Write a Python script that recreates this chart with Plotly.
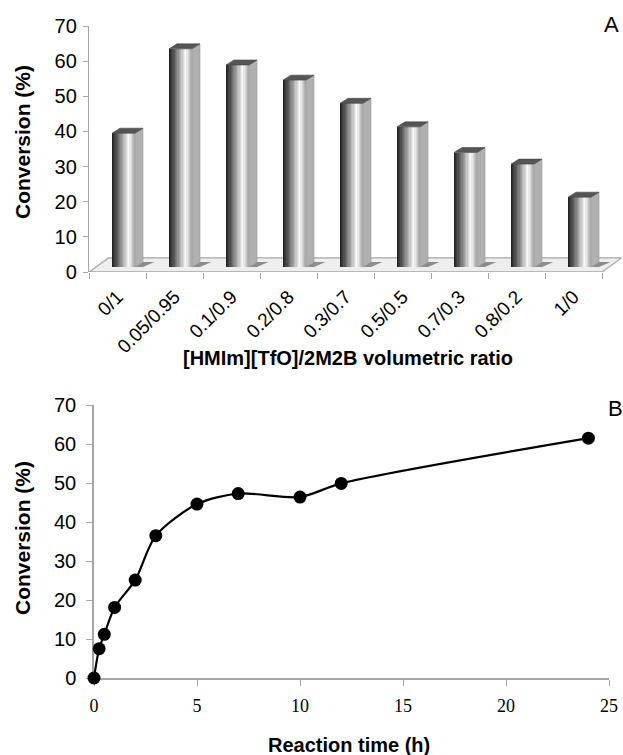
import plotly.graph_objects as go

# ---------------- data ----------------
ratio_labels = ["0/1", "0.05/0.95", "0.1/0.9", "0.2/0.8", "0.3/0.7",
                "0.5/0.5", "0.7/0.3", "0.8/0.2", "1/0"]
conversion_a = [39.5, 63.5, 58.9, 54.6, 48.0, 41.3, 34.0, 30.7, 21.3]

time_h = [0, 0.25, 0.5, 1, 2, 3, 5, 7, 10, 12, 24]
conversion_b = [0, 7.5, 11.2, 18.1, 25.1, 36.5, 44.6, 47.3, 46.4, 49.9, 61.5]

y_ticks = [0, 10, 20, 30, 40, 50, 60, 70]
t_ticks = [0, 5, 10, 15, 20, 25]

# ---------------- geometry / style ----------------
W, H = 623, 755
AX_GREY = "#a6a6a6"
BASE = 1.4          # bar foot above front floor edge (3-D look)
F0, F1 = -0.096, 0.307   # front face span relative to category centre
DX, DY = 0.14, 1.42      # 3-D depth offset of side / cap
N_SLICES = 18

def shade(t):
    # cylinder-like gradient from dark (left) to white then grey (right)
    if t < 0.74:
        v = 30 + (252 - 30) * (t / 0.74) ** 1.15
    else:
        v = 252 - (252 - 170) * ((t - 0.74) / 0.26)
    v = int(round(v))
    return f"rgb({v},{v},{v})"

fig = go.Figure()

idx = list(range(len(ratio_labels)))
heights = [v - BASE for v in conversion_a]
sw = (F1 - F0) / N_SLICES
for k in range(N_SLICES):
    fig.add_trace(go.Bar(
        x=idx, y=heights, base=BASE, width=sw * 1.08,
        offset=F0 + k * sw, marker=dict(color=shade((k + 0.5) / N_SLICES), line=dict(width=0)),
        xaxis="x", yaxis="y", showlegend=False, hoverinfo="skip"))

shapes = []
# floor
shapes.append(dict(type="path", xref="x", yref="y", layer="below",
                   path=f"M -0.5,0 L 8.5,0 L {8.5 + 0.34},4 L {-0.5 + 0.34},4 Z",
                   fillcolor="#eeeeee", line=dict(color=AX_GREY, width=1.3)))
for i, v in zip(idx, conversion_a):
    x0, x1 = i + F0, i + F1
    # shadow on floor
    shapes.append(dict(type="path", xref="x", yref="y", layer="below",
                       path=f"M {x1},{BASE} L {x1 + DX},{BASE + DY} L {x1 + DX + 0.2},{BASE + DY} L {x1 + 0.14},{BASE} Z",
                       fillcolor="#8c8c8c", line=dict(width=0)))
    # side face
    shapes.append(dict(type="path", xref="x", yref="y",
                       path=f"M {x1},{BASE} L {x1},{v} L {x1 + DX},{v + DY} L {x1 + DX},{BASE + DY} Z",
                       fillcolor="#b0b0b0", line=dict(color="#979797", width=0.6)))
    # cap
    shapes.append(dict(type="path", xref="x", yref="y",
                       path=f"M {x0},{v} L {x1},{v} L {x1 + DX},{v + DY} L {x0 + DX},{v + DY} Z",
                       fillcolor="#555555", line=dict(color="#444444", width=0.6)))

# panel B
fig.add_trace(go.Scatter(
    x=time_h, y=conversion_b, mode="lines+markers",
    line=dict(color="black", width=2.2, shape="spline", smoothing=0.8),
    marker=dict(color="black", size=13),
    xaxis="x2", yaxis="y2", showlegend=False, cliponaxis=False))

arial = "Arial, Liberation Sans, sans-serif"

fig.update_layout(
    width=W, height=H, margin=dict(l=0, r=0, t=0, b=0, autoexpand=False),
    paper_bgcolor="white", plot_bgcolor="rgba(0,0,0,0)",
    barmode="overlay", bargap=0,
    font=dict(family=arial, color="black"),
    xaxis=dict(domain=[89 / W, 622 / W], range=[-0.5, 8.85], anchor="y", automargin=False,
               tickmode="array", tickvals=idx, ticktext=ratio_labels,
               tickangle=-45, ticks="", ticklen=0, showline=False, showgrid=False,
               zeroline=False, tickfont=dict(size=19, family=arial),
               ticklabelstandoff=9,
               minor=dict(tickvals=[i - 0.5 for i in range(len(idx) + 1)],
                          ticks="outside", ticklen=6, tickcolor=AX_GREY, tickwidth=1.3)),
    yaxis=dict(domain=[1 - 272 / H, 1 - 26 / H], range=[0, 70], anchor="x", automargin=False,
               tickvals=y_ticks, ticks="outside", ticklen=5, tickcolor=AX_GREY,
               showline=True, linecolor=AX_GREY, linewidth=1.3, showgrid=False,
               zeroline=False, ticklabelstandoff=2, tickfont=dict(size=20, family=arial)),
    xaxis2=dict(domain=[94 / W, 609 / W], range=[0, 25], anchor="y2", automargin=False,
                tickvals=t_ticks, ticks="outside", ticklen=6, tickcolor=AX_GREY,
                showline=True, linecolor=AX_GREY, linewidth=1.5, showgrid=False,
                zeroline=False, ticklabelstandoff=5, layer="below traces",
                tickfont=dict(size=18, family="Liberation Serif, DejaVu Serif, serif")),
    yaxis2=dict(domain=[1 - 678 / H, 1 - 405 / H], range=[0, 70], anchor="x2", automargin=False,
                tickvals=y_ticks, ticks="outside", ticklen=6, tickcolor=AX_GREY,
                showline=True, linecolor=AX_GREY, linewidth=1.5, showgrid=False,
                zeroline=False, ticklabelstandoff=6, layer="below traces",
                tickfont=dict(size=20, family=arial)),
    shapes=shapes,
)

def ann(text, x, y, size, bold=False, angle=0):
    return dict(text=f"<b>{text}</b>" if bold else text, x=x / W, y=1 - y / H,
                xref="paper", yref="paper", showarrow=False, textangle=angle,
                xanchor="center", yanchor="middle", font=dict(size=size, family=arial, color="black"))

fig.update_layout(annotations=[
    ann("Conversion (%)", 23, 142, 21, True, -90),
    ann("[HMIm][TfO]/2M2B volumetric ratio", 348, 358, 20, True),
    ann("A", 611, 25, 22),
    ann("Conversion (%)", 22, 538, 21, True, -90),
    ann("Reaction time (h)", 349, 745, 20, True),
    ann("B", 615, 408, 22),
])

fig.write_html("out.html", config={"displayModeBar": False},
               post_script="document.body.style.margin='0';document.body.style.overflow='hidden';")
